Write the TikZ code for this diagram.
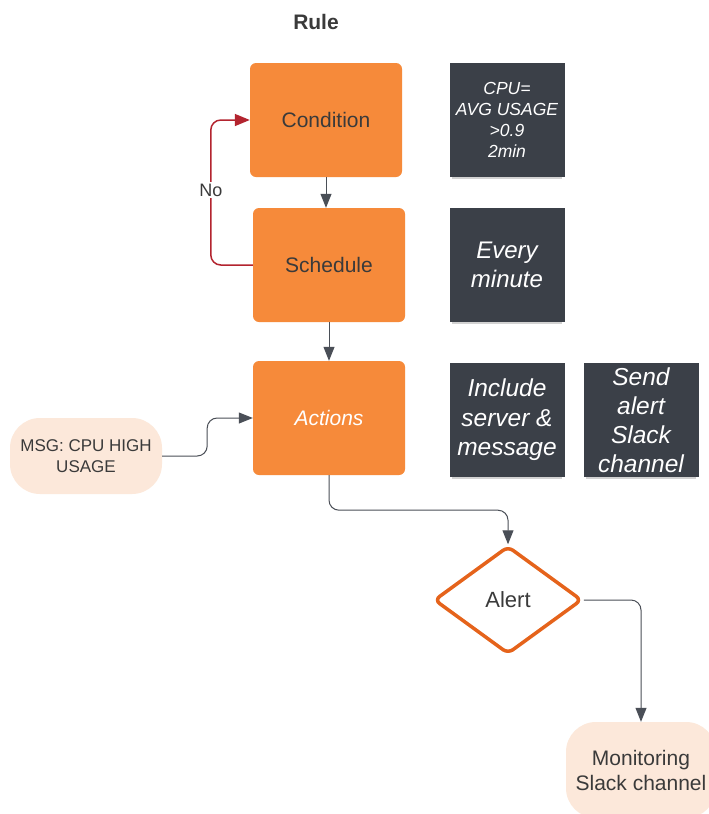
\documentclass[tikz,border=0pt]{standalone}
\usepackage{fontspec}
\setmainfont{Liberation Sans}
\usetikzlibrary{shapes.geometric,arrows.meta,shadows}
\definecolor{boxorange}{HTML}{F68A3A}
\definecolor{darkbox}{HTML}{3B4048}
\definecolor{peach}{HTML}{FCE8DA}
\definecolor{loopred}{HTML}{B3242F}
\definecolor{linegray}{HTML}{4A4F57}
\definecolor{alertorange}{HTML}{E5631B}
\definecolor{textgray}{HTML}{3A3A3A}
\begin{document}
\begin{tikzpicture}[x=1pt,y=-1pt,
  stepbox/.style={fill=boxorange, rounded corners=6pt, minimum width=152pt, minimum height=114pt, inner sep=0pt, text=textgray, font=\fontsize{21}{25}\selectfont},
  notebox/.style={fill=darkbox, minimum width=115pt, minimum height=114pt, inner sep=0pt, text=white, align=center,
    drop shadow={shadow xshift=0pt, shadow yshift=-5pt, shadow scale=0.95, fill=gray!50, opacity=.7}},
  pill/.style={fill=peach, rounded corners=30pt, inner sep=0pt, text=textgray, align=center},
  conn/.style={draw=linegray, line width=1pt, rounded corners=10pt, -{Triangle[length=14pt,width=11pt]}}]
  \useasboundingbox (0,0) rectangle (709,814);
  \fill[white] (0,0) rectangle (709,814);
  \node[font=\fontsize{21}{25}\selectfont\bfseries, text=textgray] (title) at (316,22) {Rule};
  \node[stepbox] (cond) at (326,120) {Condition};
  \node[stepbox] (sched) at (329,265) {Schedule};
  \node[stepbox, text=white, font=\fontsize{21}{25}\selectfont\itshape] (act) at (329,418) {Actions};
  \node[notebox, font=\fontsize{17.5}{21}\selectfont\itshape] (n1) at (507,120) {CPU=\\AVG USAGE\\>0.9\\2min};
  \node[notebox, font=\fontsize{24}{29}\selectfont\itshape] (n2) at (507,265) {Every\\minute};
  \node[notebox, font=\fontsize{24.5}{29.5}\selectfont\itshape] (n3) at (507,420) {Include\\server \&\\message};
  \node[notebox, font=\fontsize{24.5}{29}\selectfont\itshape] (n4) at (641,420) {Send\\alert\\Slack\\channel};
  \node[pill, minimum width=152pt, minimum height=76pt, font=\fontsize{17}{21}\selectfont] (msg) at (86,456) {MSG: CPU HIGH\\USAGE};
  \node[diamond, draw=alertorange, line width=3.5pt, rounded corners=6pt, fill=white, minimum width=148pt, minimum height=108pt, inner sep=0pt, text=textgray, font=\fontsize{22}{26}\selectfont] (alert) at (508,600) {Alert};
  \node[pill, minimum width=150pt, minimum height=96pt, font=\fontsize{21}{25}\selectfont] (mon) at (641,770) {Monitoring\\Slack channel};
  \draw[conn] (cond.south) -- (sched.north -| cond.south);
  \draw[conn] (sched.south) -- (act.north);
  \draw[draw=loopred, line width=1.5pt, rounded corners=10pt, -{Triangle[length=15pt,width=12pt]}] (sched.west) -- ++(-42,0) |- (cond.west);
  \node[fill=white, inner sep=2pt, text=textgray, font=\fontsize{18}{21}\selectfont] (no) at (211,190) {No};
  \draw[conn] (msg.east) -- ++(45,0) |- (act.west);
  \draw[conn] (act.south) -- ++(0,35) -| (alert.north);
  \draw[conn] (alert.east) -| (mon.north);
\end{tikzpicture}
\end{document}
